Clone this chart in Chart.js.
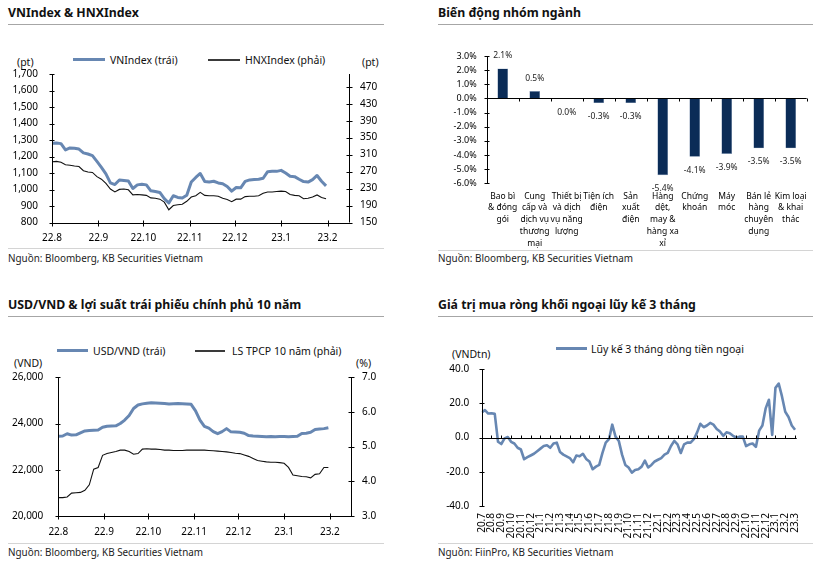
<!DOCTYPE html>
<html><head><meta charset="utf-8">
<script src="https://cdn.jsdelivr.net/npm/chart.js@4.4.1/dist/chart.umd.min.js"></script>
<style>
html,body{margin:0;padding:0;background:#fff;}
body{width:820px;height:562px;position:relative;overflow:hidden;font-family:"Noto Sans",sans-serif;color:#000;}
.t{position:absolute;font-weight:bold;font-size:12.3px;line-height:16px;white-space:nowrap;color:#111;}
.rule{position:absolute;height:0;border-top:1px solid #a6a6a6;}
.srule{position:absolute;height:0;border-top:1px solid #d4d4d4;}
.src{position:absolute;font-size:9.9px;line-height:12px;color:#222;white-space:nowrap;}
.lg{position:absolute;font-size:10.5px;line-height:14px;white-space:nowrap;color:#111;}
.sw{position:absolute;}
canvas{position:absolute;}
</style></head><body>

<div class="t" style="left:8px;top:5px">VNIndex &amp; HNXIndex</div>
<div class="rule" style="left:8px;top:24px;width:376px"></div>
<div class="t" style="left:438px;top:5px">Biến động nhóm ngành</div>
<div class="rule" style="left:438px;top:24px;width:375px"></div>
<div class="t" style="left:8px;top:297px">USD/VND &amp; lợi suất trái phiếu chính phủ 10 năm</div>
<div class="rule" style="left:8px;top:316px;width:376px"></div>
<div class="t" style="left:438px;top:297px">Giá trị mua ròng khối ngoại lũy kế 3 tháng</div>
<div class="rule" style="left:438px;top:316px;width:375px"></div>

<!-- legends panel 1 -->
<div class="sw" style="left:73px;top:58px;width:32px;height:3px;background:#6787b2"></div>
<div class="lg" style="left:110px;top:53px">VNIndex (trái)</div>
<div class="sw" style="left:208px;top:59px;width:32px;height:2px;background:#3a3a3a"></div>
<div class="lg" style="left:245px;top:53px">HNXIndex (phải)</div>
<div class="lg" style="left:17px;top:55px">(pt)</div>
<div class="lg" style="left:362px;top:55px">(pt)</div>

<!-- legends panel 3 -->
<div class="sw" style="left:57px;top:349px;width:31px;height:3px;background:#6787b2"></div>
<div class="lg" style="left:93px;top:344px">USD/VND (trái)</div>
<div class="sw" style="left:195px;top:350px;width:30px;height:2px;background:#3a3a3a"></div>
<div class="lg" style="left:232px;top:344px">LS TPCP 10 năm (phải)</div>
<div class="lg" style="left:14px;top:356px">(VND)</div>
<div class="lg" style="left:356px;top:356px">(%)</div>

<!-- legend panel 4 -->
<div class="sw" style="left:556px;top:347px;width:31px;height:3px;background:#6787b2"></div>
<div class="lg" style="left:591px;top:342px">Lũy kế 3 tháng dòng tiền ngoại</div>
<div class="lg" style="left:452px;top:347px">(VNDtn)</div>

<div class="srule" style="left:8px;top:248px;width:376px"></div>
<div class="src" style="left:8px;top:252px">Nguồn: Bloomberg, KB Securities Vietnam</div>
<div class="srule" style="left:438px;top:250px;width:375px"></div>
<div class="src" style="left:438px;top:252px">Nguồn: Bloomberg, KB Securities Vietnam</div>
<div class="srule" style="left:8px;top:543px;width:376px"></div>
<div class="src" style="left:8px;top:546px">Nguồn: Bloomberg, KB Securities Vietnam</div>
<div class="srule" style="left:438px;top:543px;width:375px"></div>
<div class="src" style="left:438px;top:546px">Nguồn: FiinPro, KB Securities Vietnam</div>

<canvas id="c1" width="410" height="184" style="left:0;top:66px"></canvas>
<canvas id="c2" width="390" height="214" style="left:430px;top:48px"></canvas>
<canvas id="c3" width="410" height="170" style="left:0;top:370px"></canvas>
<canvas id="c4" width="390" height="184" style="left:430px;top:360px"></canvas>

<script>
// ---------- DATA ----------
// Panel 1: VNIndex / HNXIndex, sampled every 3 days from 1 Aug 2022
const idxDayStep = 3;
const vnIndex = [1280,1282,1278,1240,1252,1250,1245,1222,1215,1205,1170,1134,1095,1040,1030,1058,1055,1052,1006,1028,1032,1028,992,988,982,945,918,962,952,948,965,1045,1073,1097,1049,1045,1050,1040,1035,1018,990,1012,1010,1049,1058,1060,1062,1068,1108,1110,1110,1116,1100,1080,1078,1062,1048,1045,1060,1085,1050,1022];
const hnxIndex = [293,294,292,286,285,283,282,272,269,268,258,252,242,229,222,228,229,227,215,216,215,214,208,207,205,198,180,190,192,193,200,210,213,221,214,213,213,212,207,204,199,205,205,211,212,212,213,219,222,222,223,224,223,216,214,213,206,207,210,215,209,206];
const monthTickDays = [0,31,61,92,122,153,184];
const monthTickLabels = ['22.8','22.9','22.10','22.11','22.12','23.1','23.2'];
const vnTicks = [800,900,1000,1100,1200,1300,1400,1500,1600,1700];
const hnxTicks = [150,190,230,270,310,350,390,430,470];

// Panel 2: sector performance
const sectorNames = [['Bao bì','& đóng','gói'],['Cung','cấp và','dịch vụ','thương','mại'],['Thiết bị','và dịch','vụ năng','lượng'],['Tiện ích','điện'],['Sản','xuất','điện'],['Hàng','dệt,','may &','hàng xa','xỉ'],['Chứng','khoán'],['Máy','móc'],['Bán lẻ','hàng','chuyên','dụng'],['Kim loại','& khai','thác']];
const sectorChange = [2.1,0.5,0.0,-0.3,-0.3,-5.4,-4.1,-3.9,-3.5,-3.5];
const sectorTicks = [-6,-5,-4,-3,-2,-1,0,1,2,3];

// Panel 3: USD/VND and 10Y government bond yield, every 3 days from 1 Aug 2022
const usdVnd = [23450,23460,23560,23500,23510,23600,23680,23700,23710,23720,23840,23880,23890,23900,24000,24150,24350,24650,24800,24850,24880,24900,24890,24880,24870,24850,24860,24870,24860,24850,24830,24550,24150,23880,23800,23650,23560,23650,23780,23640,23630,23620,23580,23480,23460,23450,23440,23430,23440,23430,23440,23440,23430,23440,23450,23570,23580,23620,23740,23760,23780,23820];
const bond10y = [3.53,3.53,3.55,3.66,3.67,3.68,3.74,3.9,4.35,4.4,4.75,4.8,4.83,4.86,4.9,4.9,4.86,4.78,4.8,4.93,4.94,4.93,4.93,4.92,4.9,4.9,4.89,4.89,4.89,4.9,4.9,4.9,4.9,4.9,4.89,4.88,4.87,4.86,4.85,4.83,4.81,4.8,4.76,4.72,4.66,4.6,4.58,4.56,4.55,4.55,4.54,4.52,4.4,4.18,4.16,4.14,4.13,4.1,4.2,4.22,4.4,4.4];
const usdTicks = [20000,22000,24000,26000];
const bondTicks = [3,4,5,6,7];

// Panel 4: 3-month cumulative foreign net buying (VND tn), 3 samples per month from Jul 2020
const flowPerMonth = 3;
const foreignFlow = [14.6,16,14,14.2,13.8,-2.5,-3.8,-0.5,0.3,-2.5,-3.5,-6,-7,-12.7,-11.5,-10.5,-9.5,-8,-6.5,-5,-4.5,-6,-3.5,-3,-8.5,-10,-11,-12,-14.5,-10.5,-11,-9.5,-12.5,-14,-18.5,-17,-16,-9,-3,-1,7.5,0.5,-2,-10,-16,-17.5,-20.5,-19,-18.5,-17,-13.5,-17.5,-16,-14,-13,-12,-10,-9,-5,-2,-4,-9,-4,-3,-3,-1,3,8,6,7,8.5,7.5,5,3.5,1,3,2.5,1,0,0.5,0.5,-5,-4,-3.5,-5.5,4,7,17,22,1.5,29,31.5,24,15,12,7,4.5];
const flowMonths = ['20.7','20.8','20.9','20.10','20.11','20.12','21.1','21.2','21.3','21.4','21.5','21.6','21.7','21.8','21.9','21.10','21.11','21.12','22.1','22.2','22.3','22.4','22.5','22.6','22.7','22.8','22.9','22.10','22.11','22.12','23.1','23.2','23.3'];
const flowTicks = [-40,-20,0,20,40];

// ---------- STYLE ----------
const BLUE = '#6787b2';
const NAVY = '#0b2c57';
const FONT = 'Noto Sans';

function axesPlugin(cfg){
  return {id:'axdeco', afterDatasetsDraw(chart){
    const ctx = chart.ctx, a = chart.chartArea;
    ctx.save(); ctx.strokeStyle = '#000'; ctx.lineWidth = 1;
    (cfg.y||[]).forEach(ax=>{
      const s = chart.scales[ax.id];
      const x = Math.round(ax.side==='right' ? a.right : a.left) + 0.5;
      ctx.beginPath(); ctx.moveTo(x, a.top); ctx.lineTo(x, a.bottom);
      s.ticks.forEach(t=>{ const y = Math.round(s.getPixelForValue(t.value)) + 0.5; ctx.moveTo(x-ax.l, y); ctx.lineTo(x+ax.r, y); });
      ctx.stroke();
    });
    if (cfg.x){
      const s = chart.scales.x;
      const y = (cfg.x.yid ? Math.round(chart.scales[cfg.x.yid].getPixelForValue(0)) : Math.round(a.bottom)) + 0.5;
      ctx.beginPath(); ctx.moveTo(a.left, y); ctx.lineTo(a.right, y);
      const pts = cfg.x.pts ? cfg.x.pts(chart) : s.ticks.map(t=>s.getPixelForValue(t.value));
      pts.forEach(px=>{ px = Math.round(px) + 0.5; ctx.moveTo(px, y-cfg.x.u); ctx.lineTo(px, y+cfg.x.d); });
      ctx.stroke();
    }
    ctx.restore();
  }};
}
const noGrid = {display:false, drawTicks:false};
const noBorder = {display:false};
function tickFont(size){ return {family: FONT, size: size}; }
function fixV(w){ return s=>{ s.width = w; s.paddingTop = 0; s.paddingBottom = 0; }; }
function fixH(h){ return s=>{ s.height = h; }; }
const baseOpts = {responsive:false, animation:false, events:[], plugins:{legend:{display:false}, tooltip:{enabled:false}}};

// ---------- CHART 1 ----------
new Chart(document.getElementById('c1'), {
  type:'line',
  data:{datasets:[
    {data: vnIndex.map((v,i)=>({x:i*idxDayStep, y:v})), yAxisID:'y', borderColor:BLUE, borderWidth:3, pointRadius:0, tension:0, borderJoinStyle:'round'},
    {data: hnxIndex.map((v,i)=>({x:i*idxDayStep, y:v})), yAxisID:'y1', borderColor:'#111', borderWidth:1.1, pointRadius:0, tension:0}
  ]},
  options: Object.assign({}, baseOpts, {
    layout:{padding:{top:8, left:0, right:0, bottom:0}},
    scales:{
      x:{type:'linear', min:0, max:198, grid:noGrid, border:noBorder,
         afterBuildTicks: ax=>{ ax.ticks = monthTickDays.map(v=>({value:v})); },
         ticks:{autoSkip:false, maxRotation:0, padding:10, color:'#000', font:tickFont(10), callback:(v,i)=>monthTickLabels[i]},
         afterFit: fixH(27.5)},
      y:{position:'left', min:800, max:1700, grid:noGrid, border:noBorder,
         afterBuildTicks: ax=>{ ax.ticks = vnTicks.map(v=>({value:v})); },
         ticks:{padding:14, color:'#000', font:tickFont(10), callback:v=>v.toLocaleString('en-US')},
         afterFit: fixV(52)},
      y1:{position:'right', min:150, max:500, grid:noGrid, border:noBorder,
         afterBuildTicks: ax=>{ ax.ticks = hnxTicks.map(v=>({value:v})); },
         ticks:{padding:11.5, color:'#000', font:tickFont(10), callback:v=>String(v)},
         afterFit: fixV(61.5)}
    }
  }),
  plugins:[axesPlugin({y:[{id:'y', side:'left', l:3, r:2},{id:'y1', side:'right', l:3, r:3}], x:{u:3, d:3}})]
});

// ---------- CHART 2 ----------
const barLabels = {id:'barlabels', afterDatasetsDraw(chart){
  const ctx = chart.ctx, meta = chart.getDatasetMeta(0);
  ctx.save(); ctx.fillStyle = '#222'; ctx.font = '8.5px "'+FONT+'"'; ctx.textAlign = 'center'; ctx.textBaseline = 'middle';
  meta.data.forEach((bar,i)=>{
    const v = sectorChange[i];
    const y = v > 0 ? bar.y - 13 : bar.y + 14;
    ctx.fillText(v.toFixed(1)+'%', bar.x, y);
  });
  ctx.restore();
}};
new Chart(document.getElementById('c2'), {
  type:'bar',
  data:{labels: sectorNames, datasets:[{data: sectorChange, backgroundColor:NAVY, borderColor:'#8d9fb8', borderWidth:0.6, barThickness:10}]},
  options: Object.assign({}, baseOpts, {
    layout:{padding:{top:8, left:0, right:13.3, bottom:0}},
    scales:{
      x:{grid:noGrid, border:noBorder,
         ticks:{autoSkip:false, maxRotation:0, minRotation:0, padding:7, color:'#000', font:{family:FONT, size:8.5, lineHeight:1.38}},
         afterFit: fixH(78.7)},
      y:{min:-6, max:3, grid:noGrid, border:noBorder,
         afterBuildTicks: ax=>{ ax.ticks = sectorTicks.map(v=>({value:v})); },
         ticks:{padding:10, color:'#000', font:tickFont(9), callback:v=>v.toFixed(1)+'%'},
         afterFit: fixV(56.7)}
    }
  }),
  plugins:[barLabels, axesPlugin({y:[{id:'y', side:'left', l:3, r:2}], x:{yid:'y', u:0, d:3, pts:(chart)=>{
    const a = chart.chartArea, n = sectorChange.length, w = (a.right-a.left)/n;
    return sectorChange.map((_,k)=>a.left + (k+1)*w);
  }}})]
});

// ---------- CHART 3 ----------
new Chart(document.getElementById('c3'), {
  type:'line',
  data:{datasets:[
    {data: usdVnd.map((v,i)=>({x:i*idxDayStep, y:v})), yAxisID:'y', borderColor:BLUE, borderWidth:3, pointRadius:0, tension:0, borderJoinStyle:'round'},
    {data: bond10y.map((v,i)=>({x:i*idxDayStep, y:v})), yAxisID:'y1', borderColor:'#111', borderWidth:1.1, pointRadius:0, tension:0}
  ]},
  options: Object.assign({}, baseOpts, {
    layout:{padding:{top:7.3, left:0, right:0, bottom:0}},
    scales:{
      x:{type:'linear', min:0, max:198, grid:noGrid, border:noBorder,
         afterBuildTicks: ax=>{ ax.ticks = monthTickDays.map(v=>({value:v})); },
         ticks:{autoSkip:false, maxRotation:0, padding:10, color:'#000', font:tickFont(10), callback:(v,i)=>monthTickLabels[i]},
         afterFit: fixH(24)},
      y:{position:'left', min:20000, max:26000, grid:noGrid, border:noBorder,
         afterBuildTicks: ax=>{ ax.ticks = usdTicks.map(v=>({value:v})); },
         ticks:{padding:15, color:'#000', font:tickFont(10), callback:v=>v.toLocaleString('en-US')},
         afterFit: fixV(58.3)},
      y1:{position:'right', min:3, max:7, grid:noGrid, border:noBorder,
         afterBuildTicks: ax=>{ ax.ticks = bondTicks.map(v=>({value:v})); },
         ticks:{padding:11.5, color:'#000', font:tickFont(10), callback:v=>v.toFixed(1)},
         afterFit: fixV(59.5)}
    }
  }),
  plugins:[axesPlugin({y:[{id:'y', side:'left', l:3, r:2},{id:'y1', side:'right', l:3, r:3}], x:{u:3, d:3}})]
});

// ---------- CHART 4 ----------
new Chart(document.getElementById('c4'), {
  type:'line',
  data:{datasets:[
    {data: foreignFlow.map((v,i)=>({x:i/flowPerMonth, y:v})), borderColor:BLUE, borderWidth:2.6, pointRadius:0, tension:0, borderJoinStyle:'round'}
  ]},
  options: Object.assign({}, baseOpts, {
    layout:{padding:{top:9, left:0, right:23.3, bottom:0}},
    scales:{
      x:{type:'linear', min:0, max:32.17, grid:noGrid, border:noBorder,
         afterBuildTicks: ax=>{ ax.ticks = flowMonths.map((_,k)=>({value:k})); },
         ticks:{autoSkip:false, minRotation:90, maxRotation:90, padding:7, color:'#000', font:tickFont(10), callback:(v,i)=>flowMonths[i]},
         afterFit: fixH(38)},
      y:{min:-40, max:40, grid:noGrid, border:noBorder,
         afterBuildTicks: ax=>{ ax.ticks = flowTicks.map(v=>({value:v})); },
         ticks:{padding:12.5, color:'#000', font:tickFont(10), callback:v=>v.toFixed(1)},
         afterFit: fixV(51.7)}
    }
  }),
  plugins:[axesPlugin({y:[{id:'y', side:'left', l:3, r:2}], x:{yid:'y', u:3, d:0}})]
});
</script>
</body></html>
